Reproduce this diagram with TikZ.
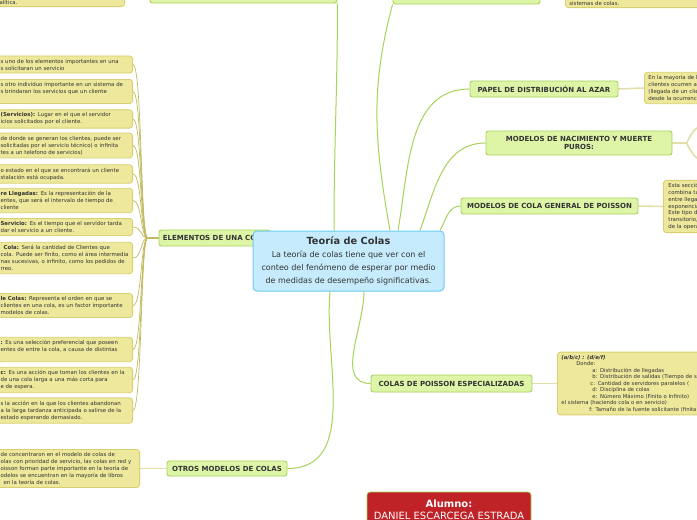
\documentclass[tikz,border=0pt]{standalone}
\usepackage{xcolor}
\usepackage{fontspec}
\setmainfont{DejaVu Sans}
\usepackage{tikz}
\usetikzlibrary{positioning, backgrounds}

\definecolor{branchfill}{HTML}{DEF5A8}
\definecolor{branchline}{HTML}{A8D25A}
\definecolor{notefill}{HTML}{EDE89B}
\definecolor{noteline}{HTML}{D8D070}
\definecolor{notelinkcol}{HTML}{E2DEAA}
\definecolor{fancol}{HTML}{C2BA5E}
\definecolor{corefill}{HTML}{C6EBFC}
\definecolor{coreline}{HTML}{6DCBF3}
\definecolor{namefill}{HTML}{BF2328}
\definecolor{textgray}{HTML}{333333}

\newcommand\nohyph{\hyphenpenalty 10000 \exhyphenpenalty 10000 }

\begin{document}
\begin{tikzpicture}[
    x=1pt, y=-1pt,
    every node/.style={text=textgray},
    branch/.style={rectangle, draw=branchline, fill=branchfill, line width=0.9pt, rounded corners=2.5pt, inner sep=0pt, align=center, font=\fontsize{7}{8.5}\selectfont\bfseries},
    note/.style={rectangle, draw=noteline, fill=notefill, line width=0.8pt, rounded corners=3pt, inner xsep=3pt, inner ysep=3pt, align=left, font=\fontsize{5.4}{7}\selectfont\nohyph},
    leftnote/.style={note, anchor=east, text width=129pt},
    rightnote/.style={note, anchor=west, inner xsep=4pt, text width=110pt},
    core/.style={rectangle, draw=coreline, fill=corefill, line width=1pt, rounded corners=4pt, minimum width=191pt, minimum height=60pt, inner sep=0pt, align=center, font=\fontsize{8}{13}\selectfont},
    mainlink/.style={branchline, line width=1pt},
    notelink/.style={notelinkcol, line width=1.6pt},
    fanlink/.style={fancol, line width=0.7pt},
]
    \useasboundingbox (0,0) rectangle (697,520);
    \clip (0,0) rectangle (697,520);

    % --- top, cut by the frame ---
    \node[note, anchor=south east, text width=122pt, inner ysep=2pt] (tln) at (125,7) {\mbox{}\\alítica.};
    \node[branch, minimum width=187pt, minimum height=18pt] (tl) at (243.5,-6) {};
    \node[branch, minimum width=147pt, minimum height=18pt] (tr) at (466.5,-5) {};
    \node[note, anchor=south west, inner xsep=4pt, text width=140pt, inner ysep=2pt] (trn) at (565,8) {\mbox{}\\sistemas de colas.};

    % --- elements of a queue ---
    \node[branch, minimum width=111pt, minimum height=16pt] (ele) at (214.5,238) {ELEMENTOS DE UNA COLA};
    \node[leftnote] (e1) at (133,64.5) {s uno de los elementos importantes en una\\s solicitaran un servicio};
    \node[leftnote] (e2) at (133,91.5) {s otro individuo importante en un sistema de\\s brindaran los servicios que un cliente\\\mbox{}};
    \node[leftnote] (e3) at (133,119) {\textbf{(Servicios):} Lugar en el que el servidor\\icios solicitados por el cliente.};
    \node[leftnote] (e4) at (133,145.5) {de donde se generan los clientes, puede ser\\solicitadas por el servicio técnico) o infinita\\tes a un telefono de servicios)};
    \node[leftnote] (e5) at (133,174) {o estado en el que se encontrará un cliente\\stalación está ocupada.};
    \node[leftnote] (e6) at (133,200.5) {\textbf{re Llegadas:} Es la representación de la\\entes, que será el intervalo de tiempo de\\cliente};
    \node[leftnote] (e7) at (133,227) {\textbf{Servicio:} Es el tiempo que el servidor tarda\\dar el servicio a un cliente.};
    \node[leftnote] (e8) at (133,258) {\hspace*{3pt}\textbf{Cola:} Será la cantidad de Clientes que\\cola. Puede ser finito, como el área intermedia\\nas sucesivas, o infinito, como los pedidos de\\rreo.};
    \node[leftnote] (e9) at (133,305.5) {\textbf{le Colas:} Representa el orden en que se\\clientes en una cola, es un factor importante\\modelos de colas.};
    \node[leftnote] (e10) at (133,349.5) {\textbf{:} Es una selección preferencial que poseen\\entes de entre la cola, a causa de distintas\\\mbox{}};
    \node[leftnote] (e11) at (133,380) {\textbf{c:} Es una acción que toman los clientes en la\\de una cola larga a una más corta para\\e de espera.};
    \node[leftnote] (e12) at (133,410.5) {s la acción en la que los clientes abandonan\\a la larga tardanza anticipada o salirse de la\\estado esperando demasiado.};

    % --- other models ---
    \node[branch, minimum width=120pt, minimum height=15pt] (otr) at (227,468.5) {OTROS MODELOS DE COLAS};
    \node[leftnote, text width=136pt] (otrn) at (140,468.5) {de concentraron en el modelo de colas de\\olas con prioridad de servicio, las colas en red y\\oisson forman parte importante en la teoría de\\odelos se encuentran en la mayoría de libros\\\hspace*{3pt}en la teoría de colas.};

    % --- right side ---
    \node[branch, minimum width=148pt, minimum height=16pt] (pap) at (544,89) {PAPEL DE DISTRIBUCIÓN AL AZAR};
    \node[rightnote] (papn) at (644,88) {En la mayoría de los\\clientes ocurren al\\(llegada de un clien\\desde la ocurrencia};
    \node[branch, minimum width=186pt, minimum height=24pt] (nac) at (579,143) {MODELOS DE NACIMIENTO Y MUERTE\\PUROS:};
    \coordinate (nacA) at (704,126);
    \coordinate (nacB) at (704,160);
    \node[branch, minimum width=177pt, minimum height=16pt] (gen) at (549.5,206) {MODELOS DE COLA GENERAL DE POISSON};
    \node[rightnote, inner xsep=5pt, font=\fontsize{5.4}{6.8}\selectfont] (genn) at (663,206.5) {Esta sección\\combina tas\\entre llegad\\exponencial\\Este tipo de\\transitorio, y\\de la operac};
    \node[branch, minimum width=161pt, minimum height=17pt] (esp) at (451.5,383.5) {COLAS DE POISSON ESPECIALIZADAS};
    \node[rightnote, text width=160pt, font=\fontsize{5.3}{6.5}\selectfont] (espn) at (557,383.5) {\textbf{\textit{(a/b/c) : (d/e/f)}}\\
        \hspace*{15pt}Donde:\\
        \hspace*{31pt}a: Distribución de llegadas\\
        \hspace*{31pt}b: Distribución de salidas (Tiempo de servicio)\\
        \hspace*{29pt}c: Cantidad de servidores paralelos (\\
        \hspace*{31pt}d: Disciplina de colas\\
        \hspace*{31pt}e: Número Máximo (Finito o Infinito)\\
        el sistema (haciendo cola o en servicio)\\
        \hspace*{28pt}f: Tamaño de la fuente solicitante (finita};

    % --- central topic ---
    \node[core] (teoria) at (348.5,261) {{\fontsize{9.8}{12}\selectfont\bfseries Teoría de Colas}\\La teoría de colas tiene que ver con el\\conteo del fenómeno de esperar por medio\\de medidas de desempeño significativas.};

    % --- student ---
    \node[rectangle, draw=branchline, fill=namefill, line width=0.8pt, rounded corners=3pt, minimum width=164pt, minimum height=36pt, text=white, align=center, font=\fontsize{10}{11.5}\selectfont] (alumno) at (449,510) {\textbf{Alumno:}\\DANIEL ESCARCEGA ESTRADA};

    % --- connectors ---
    \begin{scope}[on background layer]
        \fill[white] (0,0) rectangle (697,520);
        \draw[mainlink] ([xshift=-14.5pt]teoria.north) to[out=90, in=-90] (tl.south east);
        \draw[mainlink] ([xshift=41.5pt]teoria.north) to[out=100, in=-105] (tr.south west);
        \draw[mainlink] ([xshift=49.5pt]teoria.north) to[out=80, in=180] (pap.west);
        \draw[mainlink] ([xshift=71.5pt]teoria.north) to[out=70, in=180] (nac.west);
        \draw[mainlink] ([xshift=91.5pt]teoria.north) to[out=60, in=180] (gen.west);
        \draw[mainlink] ([xshift=15.5pt]teoria.south) to[out=-90, in=180] (esp.west);
        \draw[mainlink] ([xshift=-18.5pt]teoria.south) to[out=-95, in=0] (otr.east);

        \foreach \n in {e1,e2,e3,e4,e5,e6,e7,e8,e9,e10,e11,e12}
            \draw[fanlink] (ele.west) -- ++(-11,0) .. controls +(-7,0) and +(9,0) .. (\n.east);

        \draw[notelink] (otr.west) -- (otrn.east);
        \draw[notelink] (pap.east) -- (papn.west);
        \draw[notelink] (gen.east) -- (genn.west);
        \draw[notelink] (esp.east) -- (espn.west);
        \draw[notelink] (nac.east) -- ++(14,0) to[out=60, in=180] (nacA);
        \draw[notelink] (nac.east) -- ++(14,0) to[out=-60, in=180] (nacB);
    \end{scope}

\end{tikzpicture}
\end{document}
